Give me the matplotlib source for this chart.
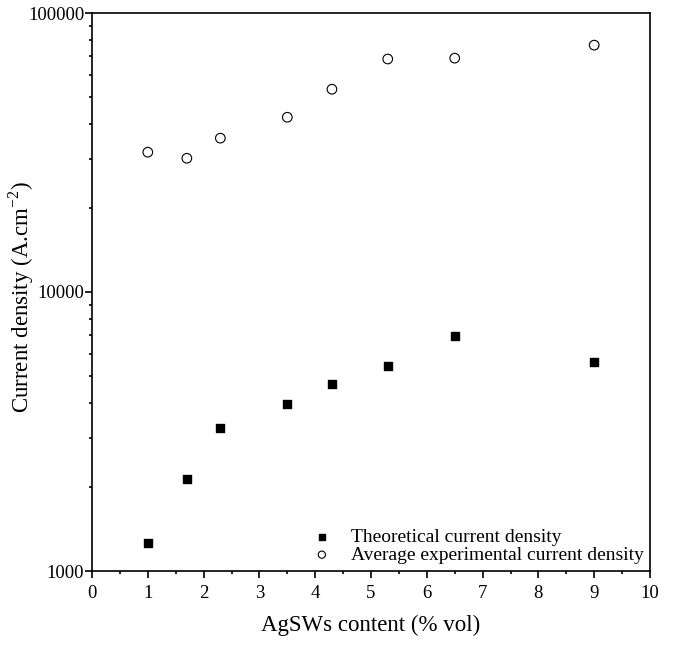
import matplotlib
matplotlib.use('Agg')
import matplotlib.pyplot as plt
from matplotlib.ticker import FixedLocator, NullFormatter, LogLocator

plt.rcParams['font.family'] = ['Liberation Serif', 'DejaVu Serif']
plt.rcParams['mathtext.fontset'] = 'custom'
plt.rcParams['mathtext.rm'] = 'Liberation Serif'

# AgSWs content (% vol)
content = [1.0, 1.7, 2.3, 3.5, 4.3, 5.3, 6.5, 9.0]
# current density (A/cm2)
theoretical = [1260, 2140, 3260, 3980, 4690, 5450, 6980, 5630]
experimental = [31700, 30150, 35600, 42300, 53300, 68400, 68900, 76700]

fig = plt.figure(figsize=(6.8, 6.45), dpi=100)
# axes box in pixels: left 92, right 650, top 13, bottom 571
ax = fig.add_axes([92/680, 74/645, 558/680, 558/645])

ax.scatter(content, theoretical, marker='s', s=40, c='black', label='Theoretical current density')
ax.scatter(content, experimental, marker='o', s=48, facecolors='none', edgecolors='black',
           linewidths=0.8, label='Average experimental current density')

ax.set_yscale('log')
ax.set_ylim(1000, 100000)
ax.set_xlim(0, 10)
ax.set_xticks(range(0, 11))
ax.xaxis.set_minor_locator(FixedLocator([i + 0.5 for i in range(10)]))
ax.set_yticks([1000, 10000, 100000])
ax.set_yticklabels(['1000', '10000', '100000'])
ax.yaxis.set_minor_locator(LogLocator(base=10, subs=range(2, 10)))
ax.yaxis.set_minor_formatter(NullFormatter())

ax.tick_params(which='major', direction='out', length=5, width=1.2, labelsize=13.5)
ax.tick_params(axis='x', which='major', pad=5)
ax.tick_params(axis='y', which='major', pad=0.5)
ax.tick_params(which='minor', direction='out', length=2.5, width=1.2)
for sp in ax.spines.values():
    sp.set_linewidth(1.2)

ax.set_xlabel('AgSWs content (% vol)', fontsize=16.5, labelpad=9)
ax.set_ylabel('Current density (A.cm$^{-2}$)', fontsize=16.5)
ax.yaxis.set_label_coords(-0.1, 0.49)

ax.legend(loc='lower right', frameon=False, fontsize=14, handletextpad=0.5,
          borderaxespad=0.0, labelspacing=0.0, markerscale=0.75,
          bbox_to_anchor=(1.003, -0.001))

fig.savefig('out.png', dpi=100)
